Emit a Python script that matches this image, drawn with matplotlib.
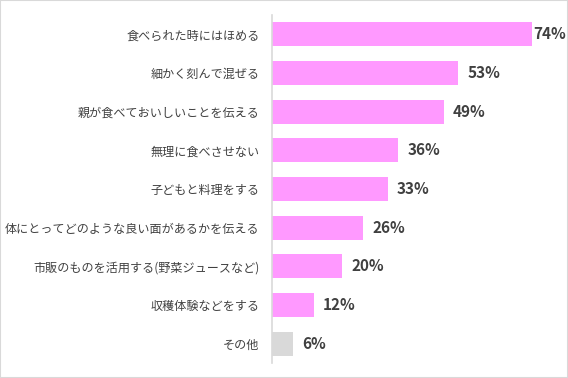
import matplotlib
matplotlib.use("Agg")
import matplotlib.pyplot as plt
from matplotlib.patches import Rectangle

plt.rcParams['font.family'] = ['Noto Sans CJK JP', 'DejaVu Sans']

categories = ["食べられた時にはほめる", "細かく刻んで混ぜる", "親が食べておいしいことを伝える",
              "無理に食べさせない", "子どもと料理をする", "体にとってどのような良い面があるかを伝える",
              "市販のものを活用する(野菜ジュースなど)", "収穫体験などをする", "その他"]
values = [74, 53, 49, 36, 33, 26, 20, 12, 6]
labels = ["74%", "53%", "49%", "36%", "33%", "26%", "20%", "12%", "6%"]
colors = ["#FF99FF"] * 8 + ["#D9D9D9"]

W, H = 568, 378
fig = plt.figure(figsize=(W / 100, H / 100), dpi=100)
ax = fig.add_axes([272 / W, 1 - 363 / H, 290 / W, 348 / H])

y = list(range(len(categories)))
ax.barh(y, values, height=0.62, color=colors)
ax.set_ylim(len(categories) - 0.5, -0.5)
ax.set_xlim(0, 290 / 3.51)
ax.set_yticks(y)
ax.set_yticklabels(categories, fontsize=8.7, color="#404040")
ax.tick_params(axis='y', length=0, pad=9)
ax.set_xticks([])
for s in ["top", "right", "bottom"]:
    ax.spines[s].set_visible(False)
ax.spines["left"].set_color("#D9D9D9")
ax.spines["left"].set_linewidth(1.2)

for i, (v, t) in enumerate(zip(values, labels)):
    off = 0.3 if i == 0 else 2.6
    ax.text(v + off, i, t, va="center", ha="left", fontsize=11, fontweight="bold",
            color="#404040")

fig.patches.append(Rectangle((0, 0), 1, 1, transform=fig.transFigure, fill=False,
                             edgecolor="#D9D9D9", linewidth=1.5))
fig.savefig("out.png", dpi=100)
